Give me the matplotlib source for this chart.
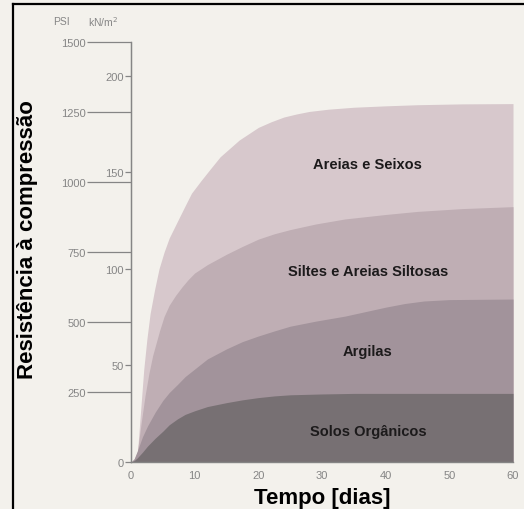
import matplotlib
matplotlib.use("Agg")
import matplotlib.pyplot as plt
from matplotlib.lines import Line2D

plt.rcParams["font.family"] = ["Liberation Sans", "DejaVu Sans"]

# Compressive strength (kN/m²) over curing time (days) for each soil group
days_areias = [0, 0.5, 1, 1.5, 2, 2.5, 3, 3.7, 4.4, 5.2, 6, 7.3, 8.5, 9.5, 11,
               12.4, 14, 15, 17, 20, 22, 24, 26, 28, 31, 35, 40, 45, 52, 60]
areias = [0, 5, 30, 180, 330, 440, 530, 615, 690, 750, 800, 860, 915, 960, 1005,
          1045, 1090, 1110, 1150, 1195, 1215, 1232, 1243, 1252, 1260, 1267, 1272,
          1276, 1279, 1280]

days_siltes = [0, 0.5, 1, 1.6, 2.2, 2.8, 3.4, 4.5, 5.2, 6, 7, 8, 9, 10, 12, 15,
               17.5, 20, 22.5, 25, 29, 33.6, 40, 45, 52, 60]
siltes = [0, 8, 36, 140, 236, 315, 380, 470, 520, 560, 595, 625, 652, 675, 705,
          742, 770, 796, 815, 830, 850, 868, 884, 895, 905, 912]

days_argilas = [0, 0.5, 1, 1.8, 2.6, 3.8, 5, 6, 7.3, 8.5, 10, 12, 15, 17.5, 20,
                22.5, 25, 29, 33.6, 37, 40, 43, 46, 50, 60]
argilas = [0, 12, 40, 90, 129, 178, 220, 248, 277, 305, 332, 368, 404, 430, 450,
           468, 485, 503, 521, 538, 553, 566, 575, 580, 582]

days_solos = [0, 0.5, 1, 1.8, 2.6, 3.8, 5, 6, 7.3, 8.5, 10, 12, 15, 17.5, 20,
              22.5, 25, 30, 35, 60]
solos = [0, 5, 15, 35, 57, 85, 110, 133, 154, 170, 183, 198, 212, 222, 230,
         236, 240, 243, 245, 245]

labels = ["Areias e Seixos", "Siltes e Areias Siltosas", "Argilas", "Solos Orgânicos"]
label_pos = [(37.2, 1064), (37.2, 682), (37.2, 396), (37.2, 111)]

kn_ticks = [250, 500, 750, 1000, 1250, 1500]
psi_ticks = [0, 50, 100, 150, 200]
x_ticks = [0, 10, 20, 30, 40, 50, 60]

PSI_TO_KN = 6.895

bg = "#f3f1ec"
fill_colors = ["#d7c8cc", "#bfaeb4", "#a2939b", "#777073"]
grey = "#858585"

fig = plt.figure(figsize=(5.24, 5.10), dpi=100, facecolor=bg)
ax = fig.add_axes([131 / 524, 1 - 463 / 510, (513 - 131) / 524, (463 - 43) / 510])
ax.set_facecolor(bg)

series = [(days_areias, areias), (days_siltes, siltes),
          (days_argilas, argilas), (days_solos, solos)]
for (d, v), c in zip(series, fill_colors):
    ax.fill_between(d, 0, v, color=c, linewidth=0, zorder=1)

for text, (x, y) in zip(labels, label_pos):
    ax.text(x, y, text, ha="center", va="center", fontsize=10.5,
            fontweight="bold", color="#1c1a1b", zorder=3)

ax.set_xlim(0, 60)
ax.set_ylim(0, 1500)

for s in ("top", "right"):
    ax.spines[s].set_visible(False)
for s in ("left", "bottom"):
    ax.spines[s].set_color(grey)
    ax.spines[s].set_linewidth(1.0)

ax.set_xticks(x_ticks)
ax.tick_params(axis="x", length=0, pad=6, labelsize=8, labelcolor=grey)

ax.set_yticks(kn_ticks)
ax.tick_params(axis="y", length=31.5, width=0.9, color=grey, pad=1,
               labelsize=8, labelcolor=grey)

sec = ax.secondary_yaxis("left", functions=(lambda k: k / PSI_TO_KN,
                                            lambda p: p * PSI_TO_KN))
sec.set_yticks(psi_ticks)
sec.spines["left"].set_color(grey)
sec.tick_params(axis="y", length=4, width=0.9, color=grey, pad=1,
                labelsize=8, labelcolor=grey)

ax.set_xlabel("Tempo [dias]", fontsize=16, fontweight="bold", labelpad=5)
fig.text(28 / 524, 1 - 240 / 510, "Resistência à compressão", rotation=90,
         ha="center", va="center", fontsize=16, fontweight="bold")

fig.text(53 / 524, 1 - 22 / 510, "PSI", ha="left", va="center",
         fontsize=7.5, color=grey)
fig.text(88 / 524, 1 - 22 / 510, "kN/m$^2$", ha="left", va="center",
         fontsize=7.5, color=grey)

# page frame lines
fig.add_artist(Line2D([13 / 524, 13 / 524], [0, 1 - 5 / 510],
                      transform=fig.transFigure, color="black", linewidth=1.6))
fig.add_artist(Line2D([13 / 524, 1], [1 - 5 / 510, 1 - 5 / 510],
                      transform=fig.transFigure, color="black", linewidth=1.6))

fig.savefig("out.png", dpi=100, facecolor=bg)
